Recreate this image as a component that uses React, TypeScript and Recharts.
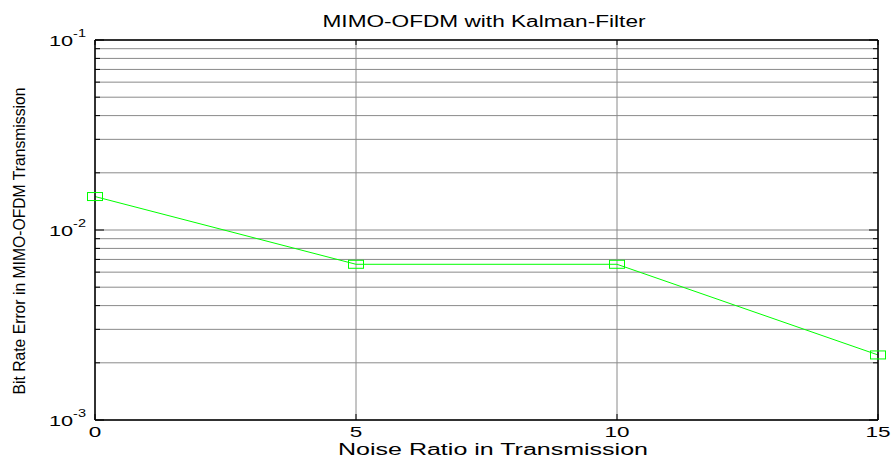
import React from "react";
import { LineChart, Line, XAxis, YAxis, CartesianGrid } from "recharts";

const noiseRatio = [0, 5, 10, 15];
const bitErrorRate = [0.015, 0.0066, 0.0066, 0.0022];

const xTicks = [0, 5, 10, 15];
const yTicks = [
  0.001, 0.002, 0.003, 0.004, 0.005, 0.006, 0.007, 0.008, 0.009,
  0.01, 0.02, 0.03, 0.04, 0.05, 0.06, 0.07, 0.08, 0.09, 0.1,
];
const decadeLabels: Record<string, string> = { "0.001": "-3", "0.01": "-2", "0.1": "-1" };

const data = noiseRatio.map((x, i) => ({ x, ber: bitErrorRate[i] }));

const W = 892;
const H = 459;
const M = { top: 30, right: 4, bottom: 9, left: 35 };
const FONT = "'Liberation Sans', Arial, sans-serif";
const GREEN = "#00ff00";

const isMajor = (v: number) => decadeLabels[String(v)] !== undefined;

const LeftTick = (props: any) => {
  const { x, y, payload } = props;
  const v = payload.value;
  const major = isMajor(v);
  return (
    <g>
      <line x1={x} y1={y} x2={x + (major ? 9 : 5)} y2={y} stroke="#000" strokeWidth={1} />
      {major && (
        <g transform={`translate(${x - 9},${y + 6}) scale(1.45,1)`}>
          <text x={0} y={0} textAnchor="end" fontSize={15} fontFamily={FONT} fill="#000">
            10
            <tspan dy={-9} fontSize={10}>{decadeLabels[String(v)]}</tspan>
          </text>
        </g>
      )}
    </g>
  );
};

const RightTick = (props: any) => {
  const { x, y, payload } = props;
  const major = isMajor(payload.value);
  return <line x1={x} y1={y} x2={x - (major ? 9 : 5)} y2={y} stroke="#000" strokeWidth={1} />;
};

const BottomTick = (props: any) => {
  const { x, y, payload } = props;
  return (
    <g>
      <line x1={x} y1={y} x2={x} y2={y - 6} stroke="#000" strokeWidth={1} />
      <g transform={`translate(${x},${y + 17}) scale(1.5,1)`}>
        <text x={0} y={0} textAnchor="middle" fontSize={15} fontFamily={FONT} fill="#000">
          {payload.value}
        </text>
      </g>
    </g>
  );
};

const TopTick = (props: any) => {
  const { x, y } = props;
  return <line x1={x} y1={y} x2={x} y2={y + 5} stroke="#000" strokeWidth={1} />;
};

const SquareDot = (props: any) => {
  const { cx, cy } = props;
  if (cx == null || cy == null) return null;
  return <rect x={cx - 7.5} y={cy - 4} width={15} height={8} fill="none" stroke={GREEN} strokeWidth={1} />;
};

export default function App() {
  return (
    <div style={{ position: "absolute", left: 0, top: 0, width: W, height: H, background: "#fff" }}>
      <LineChart width={W} height={H} data={data} margin={M}>
        <CartesianGrid stroke="#8a8a8a" strokeWidth={1} />
        <XAxis
          dataKey="x"
          type="number"
          domain={[0, 15]}
          ticks={xTicks}
          height={30}
          tickSize={0}
          tickMargin={0}
          tick={<BottomTick />}
          axisLine={{ stroke: "#000", strokeWidth: 1.5 }}
          tickLine={false}
          interval={0}
        />
        <XAxis
          xAxisId="top"
          dataKey="x"
          orientation="top"
          type="number"
          domain={[0, 15]}
          ticks={xTicks}
          height={10}
          tickSize={0}
          tickMargin={0}
          tick={<TopTick />}
          axisLine={{ stroke: "#000", strokeWidth: 1.5 }}
          tickLine={false}
          interval={0}
        />
        <YAxis
          type="number"
          scale="log"
          domain={[0.001, 0.1]}
          allowDataOverflow
          ticks={yTicks}
          width={60}
          tickSize={0}
          tickMargin={0}
          tick={<LeftTick />}
          axisLine={{ stroke: "#000", strokeWidth: 1.5 }}
          tickLine={false}
          interval={0}
        />
        <YAxis
          yAxisId="right"
          orientation="right"
          type="number"
          scale="log"
          domain={[0.001, 0.1]}
          allowDataOverflow
          ticks={yTicks}
          width={10}
          tickSize={0}
          tickMargin={0}
          tick={<RightTick />}
          axisLine={{ stroke: "#000", strokeWidth: 1.5 }}
          tickLine={false}
          interval={0}
        />
        <Line
          dataKey="ber"
          stroke={GREEN}
          strokeWidth={1}
          dot={<SquareDot />}
          activeDot={false}
          isAnimationActive={false}
        />
      </LineChart>
      <svg
        width={W}
        height={H}
        style={{ position: "absolute", left: 0, top: 0, pointerEvents: "none" }}
      >
        <text x={484} y={27} textAnchor="middle" fontSize={16} fontFamily={FONT} textLength={323} lengthAdjust="spacingAndGlyphs">
          MIMO-OFDM with Kalman-Filter
        </text>
        <text x={493} y={455} textAnchor="middle" fontSize={16} fontFamily={FONT} textLength={310} lengthAdjust="spacingAndGlyphs">
          Noise Ratio in Transmission
        </text>
        <text
          transform="translate(25,241) rotate(-90)"
          x={0}
          y={0}
          textAnchor="middle"
          fontSize={17}
          fontFamily={FONT}
          textLength={307}
          lengthAdjust="spacingAndGlyphs"
        >
          Bit Rate Error in MIMO-OFDM Transmission
        </text>
      </svg>
    </div>
  );
}
